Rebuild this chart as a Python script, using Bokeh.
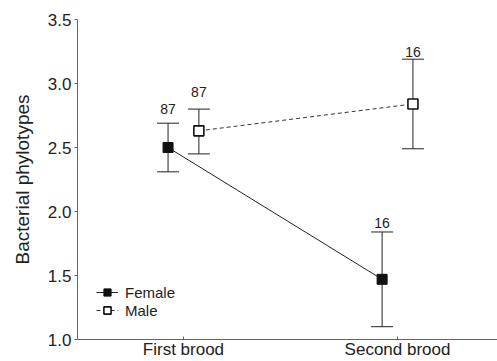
from bokeh.plotting import figure
from bokeh.models import ColumnDataSource, Whisker, TeeHead, FixedTicker, Legend, LegendItem
from bokeh.core.properties import value
from bokeh.embed import file_html
from bokeh.resources import INLINE

categories = ["First brood", "Second brood"]
female_mean = [2.50, 1.47]
female_upper = [2.69, 1.84]
female_lower = [2.31, 1.10]
female_n = ["87", "16"]
female_label_y = [2.80, 1.91]
male_mean = [2.63, 2.84]
male_upper = [2.80, 3.19]
male_lower = [2.45, 2.49]
male_n = ["87", "16"]
male_label_y = [2.93, 3.245]
y_ticks = [1.0, 1.5, 2.0, 2.5, 3.0, 3.5]

FONT = "Liberation Sans"
pos = [i + 1 for i in range(len(categories))]
shift = 0.072

p = figure(width=497, height=361, output_backend="svg", toolbar_location=None,
           x_range=(0.505, 2.467), y_range=(1.0, 3.5),
           min_border_left=77, min_border_top=19, min_border_right=0, min_border_bottom=0)
p.outline_line_color = None
p.grid.visible = False
p.background_fill_color = "white"
p.border_fill_color = "white"

fsrc = ColumnDataSource(dict(x=[v - shift for v in pos], y=female_mean, up=female_upper,
                             lo=female_lower, n=female_n, ly=female_label_y))
msrc = ColumnDataSource(dict(x=[v + shift for v in pos], y=male_mean, up=male_upper,
                             lo=male_lower, n=male_n, ly=male_label_y))

for src in (fsrc, msrc):
    w = Whisker(base="x", upper="up", lower="lo", source=src, line_color="#222222", line_width=1,
                upper_head=TeeHead(size=22, line_color="#222222", line_width=1),
                lower_head=TeeHead(size=22, line_color="#222222", line_width=1))
    p.add_layout(w)

fl = p.line("x", "y", source=fsrc, line_color="#222222", line_width=1)
ml = p.line("x", "y", source=msrc, line_color="#333333", line_width=1, line_dash="4 3")
fs = p.scatter("x", "y", source=fsrc, marker="square", size=10, fill_color="#111111", line_color="#111111")
ms = p.scatter("x", "y", source=msrc, marker="square", size=10, fill_color="white", line_color="#111111", line_width=1.6)

for src in (fsrc, msrc):
    p.text("x", "ly", text="n", source=src, text_font=value(FONT), text_font_size="14px",
           text_align="center", text_baseline="alphabetic", text_color="#222222")

legend = Legend(items=[LegendItem(label="Female", renderers=[fl, fs]),
                       LegendItem(label="Male", renderers=[ml, ms])],
                location=(19, 20), padding=4, spacing=0, glyph_width=22, glyph_height=18,
                label_text_font=FONT, label_text_font_size="15px", label_text_color="#222222",
                label_standoff=7, border_line_color=None, background_fill_alpha=0)
p.add_layout(legend)

p.xaxis.ticker = FixedTicker(ticks=pos)
p.xaxis.major_label_overrides = {v: c for v, c in zip(pos, categories)}
p.xaxis.major_tick_in = 3
p.xaxis.major_tick_out = 0
p.xaxis.minor_tick_line_color = None
p.xaxis.major_label_standoff = 0

p.yaxis.ticker = FixedTicker(ticks=y_ticks)
p.yaxis.major_label_overrides = {v: f"{v:.1f}" for v in y_ticks}
p.yaxis.major_tick_in = 0
p.yaxis.major_tick_out = 3
p.yaxis.minor_tick_line_color = None
p.yaxis.major_label_standoff = 3
p.yaxis.axis_label = "Bacterial phylotypes"
p.yaxis.axis_label_standoff = 12
p.yaxis.axis_label_text_font_size = "19px"
p.yaxis.axis_label_text_font_style = "normal"
p.yaxis.axis_label_text_font = FONT
p.yaxis.axis_label_text_color = "#222222"

for ax in (p.xaxis, p.yaxis):
    ax.axis_line_color = "#666666"
    ax.major_tick_line_color = "#666666"
    ax.major_label_text_font = FONT
    ax.major_label_text_font_size = "17px"
    ax.major_label_text_color = "#222222"

open("out.html", "w").write(file_html(p, INLINE))
